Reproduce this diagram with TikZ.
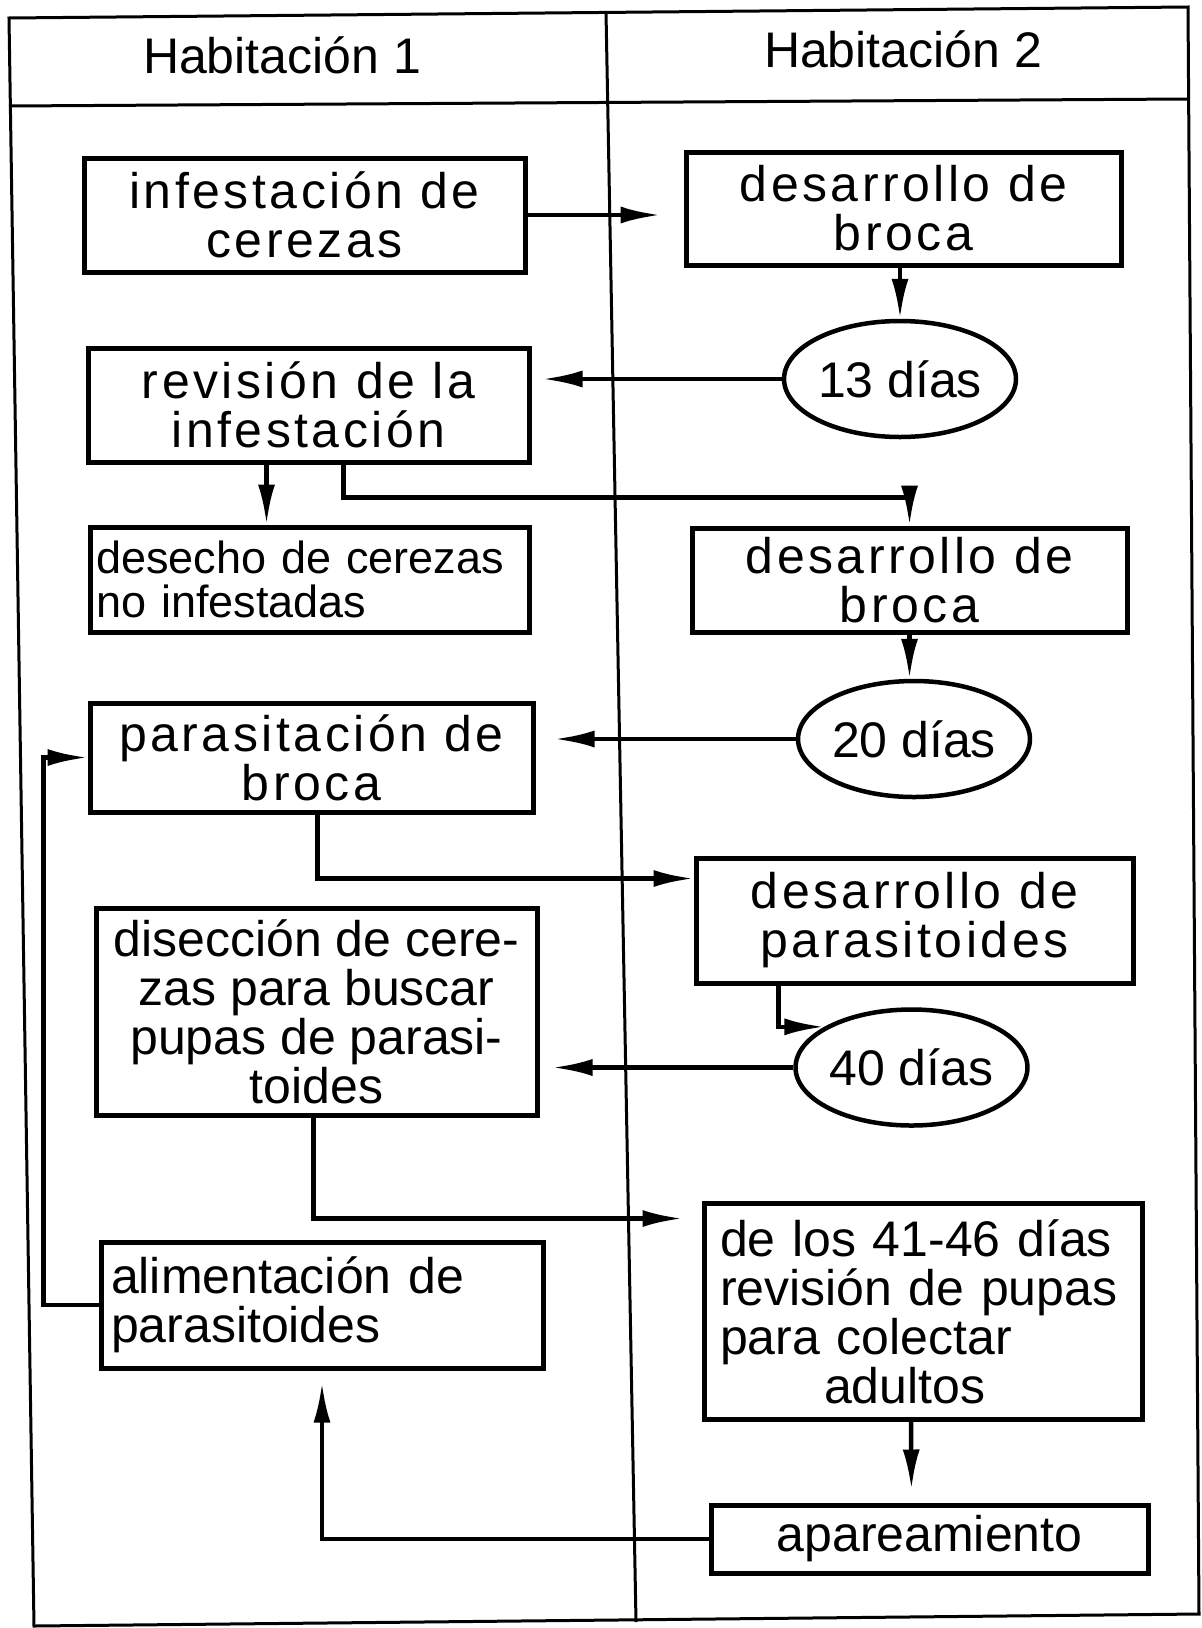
\documentclass[tikz,border=0pt]{standalone}
\usepackage{fontspec}
\setmainfont{Liberation Sans}
\usetikzlibrary{arrows.meta,positioning,calc,shapes.geometric}
\newcommand{\boxfont}{\fontsize{50}{49}\selectfont}
\newcommand{\widefont}{\fontsize{50}{49}\selectfont\addfontfeature{LetterSpace=7}}
\newcommand{\smallboxfont}{\fontsize{45}{44}\selectfont}

\begin{document}
\begin{tikzpicture}[x=1pt, y=-1pt,
  box/.style={draw, rectangle, line width=5pt, inner sep=6pt, font=\boxfont},
  wide/.style={box, font=\widefont, align=center},
  days/.style={draw, ellipse, line width=4.5pt, inner sep=0pt, minimum width=196pt, minimum height=116pt, font=\boxfont},
  arrow/.style={-{Latex[length=40pt,width=17pt]}, line width=4.5pt},
  frame/.style={line width=3pt}]
\useasboundingbox (0,0) rectangle (1202,1628);
\draw[frame] (9,18) -- (1188,7) -- (1199,1614) -- (34,1626) -- cycle;
\draw[frame] (9,106) -- (1188,99);
\draw[frame] (606,12) -- (636,1622);
\node[anchor=base, font=\boxfont] (h1) at (282,73) {Habitación 1};
\node[anchor=base, font=\boxfont] (h2) at (903,67) {Habitación 2};

\node[wide, minimum width=441pt, minimum height=114pt] (infest) at (304.5,215) {infestación de\\cerezas};
\node[wide, minimum width=435pt, minimum height=113pt] (des1) at (903.5,208.5) {desarrollo de\\broca};
\node[days] (d13) at (900,379) {13 días};
\node[wide, minimum width=441pt, minimum height=114pt] (revis) at (308.5,405) {revisión de la\\infestación};
\node[box, font=\smallboxfont, inner sep=6pt, text width=427pt, align=left, minimum height=105pt] (desecho) at (309.5,579.5) {desecho de cerezas\\no infestadas};
\node[wide, minimum width=435pt, minimum height=104pt] (des2) at (909.5,580) {desarrollo de\\broca};
\node[days] (d20) at (914,739) {20 días};
\node[wide, minimum width=443pt, minimum height=109pt] (paras) at (311.5,757.5) {parasitación de\\broca};
\node[wide, minimum width=437pt, minimum height=125pt] (desp) at (914.5,920.5) {desarrollo de\\parasitoides};
\node[box, align=center, minimum width=441pt, minimum height=207pt] (disec) at (316.5,1011.5) {disección de cere-\\zas para buscar\\pupas de parasi-\\toides};
\node[days] (d40) at (911.5,1067.5) {40 días};
\node[box, inner sep=16pt, text width=406pt, align=left, minimum height=213pt] (dias41) at (923,1311.5) {de los 41-46 días\\revisión de pupas\\para colectar\\\hspace*{104pt}adultos};
\node[box, inner sep=10pt, text width=422pt, align=left, minimum height=126pt] (alim) at (322,1305) {alimentación de\\parasitoides};
\node[box, minimum width=437pt, minimum height=68pt] (apar) at (929.5,1539) {apareamiento};

\draw[arrow, shorten >=23pt] (infest) -- (infest -| des1.west);
\draw[arrow] (des1.south -| d13) -- (d13);
\draw[arrow, shorten >=11pt] (d13) -- (d13 -| revis.east);
\draw[arrow] ($(revis.south)+(-42,0)$) -- ($(desecho.north)+(-43,0)$);
\draw[arrow] ($(revis.south)+(35,0)$) -- ++(0,33) -| (des2.north);
\draw[arrow] (des2.south) -- (des2.south |- d20.north);
\draw[arrow, shorten >=19pt] (d20) -- (d20 -| paras.east);
\draw[arrow] ($(paras.south)+(6,0)$) |- ($(desp.west)+(0,-42)$);
\draw[arrow] ($(desp.south)+(-136,0)$) |- (d40.155);
\draw[arrow, shorten >=13pt] (d40) -- (d40 -| disec.east);
\draw[arrow, shorten >=19pt] ($(disec.south)+(-3,0)$) |- ($(dias41.west)+(0,-93)$);
\draw[arrow, shorten >=13pt] ($(dias41.south)+(-12,0)$) -- ($(apar.north)+(-18,0)$);
\draw[arrow, shorten >=12pt] (apar.west) -| (alim.south);
\draw[arrow] (alim.west) -- ++(-55,0) |- (paras.west);
\end{tikzpicture}
\end{document}
